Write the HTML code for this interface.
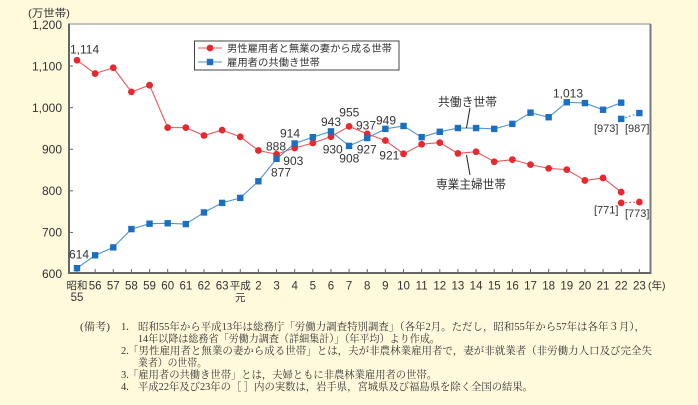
<!DOCTYPE html>
<html><head><meta charset="utf-8"><style>
html,body{margin:0;padding:0;background:#fffadc;}
svg{display:block;}
.lab{font-family:"Liberation Sans","Noto Sans CJK JP",sans-serif;fill:#333;}
.note{font-family:"Liberation Serif","Noto Serif CJK SC",serif;fill:#333;font-size:10.5px;}
</style></head><body>
<svg width="698" height="405" viewBox="0 0 698 405" xmlns="http://www.w3.org/2000/svg">
<rect x="0" y="0" width="698" height="405" fill="#fffadc"/>
<!-- plot area -->
<rect x="69" y="24" width="582" height="249" fill="#ffffff"/>
<line x1="69" y1="24" x2="651" y2="24" stroke="#8a8a8a" stroke-width="1"/>
<line x1="650.5" y1="24" x2="650.5" y2="274" stroke="#7a7a7a" stroke-width="2"/>
<line x1="69" y1="23.5" x2="69" y2="274" stroke="#666" stroke-width="2"/>
<line x1="68" y1="273" x2="651" y2="273" stroke="#666" stroke-width="2"/>
<!-- y ticks -->
<g stroke="#666" stroke-width="1">
<line x1="69" y1="66.08" x2="73" y2="66.08"/>
<line x1="69" y1="107.67" x2="73" y2="107.67"/>
<line x1="69" y1="149.25" x2="73" y2="149.25"/>
<line x1="69" y1="190.83" x2="73" y2="190.83"/>
<line x1="69" y1="232.42" x2="73" y2="232.42"/>
</g>
<!-- x ticks -->
<g stroke="#666" stroke-width="1">
<line x1="77" y1="273" x2="77" y2="269"/><line x1="95.14" y1="273" x2="95.14" y2="269"/><line x1="113.28" y1="273" x2="113.28" y2="269"/><line x1="131.42" y1="273" x2="131.42" y2="269"/><line x1="149.56" y1="273" x2="149.56" y2="269"/><line x1="167.7" y1="273" x2="167.7" y2="269"/><line x1="185.84" y1="273" x2="185.84" y2="269"/><line x1="203.98" y1="273" x2="203.98" y2="269"/><line x1="222.12" y1="273" x2="222.12" y2="269"/><line x1="240.26" y1="273" x2="240.26" y2="269"/><line x1="258.4" y1="273" x2="258.4" y2="269"/><line x1="276.54" y1="273" x2="276.54" y2="269"/><line x1="294.68" y1="273" x2="294.68" y2="269"/><line x1="312.82" y1="273" x2="312.82" y2="269"/><line x1="330.96" y1="273" x2="330.96" y2="269"/><line x1="349.1" y1="273" x2="349.1" y2="269"/><line x1="367.24" y1="273" x2="367.24" y2="269"/><line x1="385.38" y1="273" x2="385.38" y2="269"/><line x1="403.52" y1="273" x2="403.52" y2="269"/><line x1="421.66" y1="273" x2="421.66" y2="269"/><line x1="439.8" y1="273" x2="439.8" y2="269"/><line x1="457.94" y1="273" x2="457.94" y2="269"/><line x1="476.08" y1="273" x2="476.08" y2="269"/><line x1="494.22" y1="273" x2="494.22" y2="269"/><line x1="512.36" y1="273" x2="512.36" y2="269"/><line x1="530.5" y1="273" x2="530.5" y2="269"/><line x1="548.64" y1="273" x2="548.64" y2="269"/><line x1="566.78" y1="273" x2="566.78" y2="269"/><line x1="584.92" y1="273" x2="584.92" y2="269"/><line x1="603.06" y1="273" x2="603.06" y2="269"/><line x1="621.2" y1="273" x2="621.2" y2="269"/><line x1="639.34" y1="273" x2="639.34" y2="269"/>
</g>
<!-- y labels -->
<g class="lab" font-size="12" text-anchor="end">
<text x="62" y="29">1,200</text>
<text x="62" y="70.3">1,100</text>
<text x="62" y="112">1,000</text>
<text x="62" y="153.5">900</text>
<text x="62" y="195">800</text>
<text x="62" y="236.6">700</text>
<text x="62" y="278.2">600</text>
</g>
<text class="lab" x="28" y="16.5" font-size="10.5" textLength="42" lengthAdjust="spacingAndGlyphs">(万世帯)</text>
<!-- x labels -->
<g class="lab" font-size="11.5" text-anchor="middle">
<text x="77" y="289" font-size="10.5">昭和</text><text x="77" y="301">55</text>
<text x="95.14" y="289.3">56</text><text x="113.28" y="289.3">57</text><text x="131.42" y="289.3">58</text><text x="149.56" y="289.3">59</text><text x="167.7" y="289.3">60</text><text x="185.84" y="289.3">61</text><text x="203.98" y="289.3">62</text><text x="222.12" y="289.3">63</text>
<text x="240.26" y="289" font-size="10.5">平成</text><text x="240.26" y="301" font-size="10.5">元</text>
<text x="258.4" y="289.3">2</text><text x="276.54" y="289.3">3</text><text x="294.68" y="289.3">4</text><text x="312.82" y="289.3">5</text><text x="330.96" y="289.3">6</text><text x="349.1" y="289.3">7</text><text x="367.24" y="289.3">8</text><text x="385.38" y="289.3">9</text><text x="403.52" y="289.3">10</text><text x="421.66" y="289.3">11</text><text x="439.8" y="289.3">12</text><text x="457.94" y="289.3">13</text><text x="476.08" y="289.3">14</text><text x="494.22" y="289.3">15</text><text x="512.36" y="289.3">16</text><text x="530.5" y="289.3">17</text><text x="548.64" y="289.3">18</text><text x="566.78" y="289.3">19</text><text x="584.92" y="289.3">20</text><text x="603.06" y="289.3">21</text><text x="621.2" y="289.3">22</text><text x="639.34" y="289.3">23</text>
</g>
<text class="lab" x="648" y="289" font-size="10.5">(年)</text>

<!-- red series -->
<polyline fill="none" stroke="#e8565c" stroke-width="1.1" points="77,60.26 95.14,73.57 113.28,67.75 131.42,91.87 149.56,85.21 167.7,127.63 185.84,127.63 203.98,135.53 222.12,130.12 240.26,136.78 258.4,150.5 276.54,154.24 294.68,148 312.82,143.01 330.96,136.78 349.1,126.38 367.24,133.87 385.38,140.52 403.52,153.83 421.66,144.26 439.8,142.6 457.94,153.41 476.08,151.75 494.22,161.73 512.36,159.65 530.5,164.64 548.64,168.38 566.78,169.63 584.92,180.44 603.06,177.94 621.2,192.08"/>
<line x1="621.2" y1="202.89" x2="639.34" y2="202.06" stroke="#e8565c" stroke-width="1.1" stroke-dasharray="2,2"/>
<g fill="#e5292f">
<circle cx="77" cy="60.26" r="3.4"/><circle cx="95.14" cy="73.57" r="3.4"/><circle cx="113.28" cy="67.75" r="3.4"/><circle cx="131.42" cy="91.87" r="3.4"/><circle cx="149.56" cy="85.21" r="3.4"/><circle cx="167.7" cy="127.63" r="3.4"/><circle cx="185.84" cy="127.63" r="3.4"/><circle cx="203.98" cy="135.53" r="3.4"/><circle cx="222.12" cy="130.12" r="3.4"/><circle cx="240.26" cy="136.78" r="3.4"/><circle cx="258.4" cy="150.5" r="3.4"/><circle cx="276.54" cy="154.24" r="3.4"/><circle cx="294.68" cy="148" r="3.4"/><circle cx="312.82" cy="143.01" r="3.4"/><circle cx="330.96" cy="136.78" r="3.4"/><circle cx="349.1" cy="126.38" r="3.4"/><circle cx="367.24" cy="133.87" r="3.4"/><circle cx="385.38" cy="140.52" r="3.4"/><circle cx="403.52" cy="153.83" r="3.4"/><circle cx="421.66" cy="144.26" r="3.4"/><circle cx="439.8" cy="142.6" r="3.4"/><circle cx="457.94" cy="153.41" r="3.4"/><circle cx="476.08" cy="151.75" r="3.4"/><circle cx="494.22" cy="161.73" r="3.4"/><circle cx="512.36" cy="159.65" r="3.4"/><circle cx="530.5" cy="164.64" r="3.4"/><circle cx="548.64" cy="168.38" r="3.4"/><circle cx="566.78" cy="169.63" r="3.4"/><circle cx="584.92" cy="180.44" r="3.4"/><circle cx="603.06" cy="177.94" r="3.4"/><circle cx="621.2" cy="192.08" r="3.4"/><circle cx="621.2" cy="202.89" r="3.4"/><circle cx="639.34" cy="202.06" r="3.4"/>
</g>

<!-- blue series -->
<polyline fill="none" stroke="#4f93d3" stroke-width="1.1" points="77,268.18 95.14,255.29 113.28,247.39 131.42,229.09 149.56,223.68 167.7,223.27 185.84,224.1 203.98,212.46 222.12,202.89 240.26,197.9 258.4,181.27 276.54,158.82 294.68,143.43 312.82,137.19 330.96,131.37 349.1,145.92 367.24,138.02 385.38,128.88 403.52,125.96 421.66,137.19 439.8,131.79 457.94,128.04 476.08,128.04 494.22,128.88 512.36,123.89 530.5,112.66 548.64,117.23 566.78,102.26 584.92,103.09 603.06,109.75 621.2,102.68"/>
<line x1="621.2" y1="118.9" x2="639.34" y2="113.07" stroke="#4f93d3" stroke-width="1.1" stroke-dasharray="2,2"/>
<g fill="#1b6fc2">
<rect x="73.8" y="264.98" width="6.4" height="6.4"/><rect x="91.94" y="252.09" width="6.4" height="6.4"/><rect x="110.08" y="244.19" width="6.4" height="6.4"/><rect x="128.22" y="225.89" width="6.4" height="6.4"/><rect x="146.36" y="220.48" width="6.4" height="6.4"/><rect x="164.5" y="220.07" width="6.4" height="6.4"/><rect x="182.64" y="220.9" width="6.4" height="6.4"/><rect x="200.78" y="209.26" width="6.4" height="6.4"/><rect x="218.92" y="199.69" width="6.4" height="6.4"/><rect x="237.06" y="194.7" width="6.4" height="6.4"/><rect x="255.2" y="178.07" width="6.4" height="6.4"/><rect x="273.34" y="155.62" width="6.4" height="6.4"/><rect x="291.48" y="140.23" width="6.4" height="6.4"/><rect x="309.62" y="133.99" width="6.4" height="6.4"/><rect x="327.76" y="128.17" width="6.4" height="6.4"/><rect x="345.9" y="142.72" width="6.4" height="6.4"/><rect x="364.04" y="134.82" width="6.4" height="6.4"/><rect x="382.18" y="125.68" width="6.4" height="6.4"/><rect x="400.32" y="122.76" width="6.4" height="6.4"/><rect x="418.46" y="133.99" width="6.4" height="6.4"/><rect x="436.6" y="128.59" width="6.4" height="6.4"/><rect x="454.74" y="124.84" width="6.4" height="6.4"/><rect x="472.88" y="124.84" width="6.4" height="6.4"/><rect x="491.02" y="125.68" width="6.4" height="6.4"/><rect x="509.16" y="120.69" width="6.4" height="6.4"/><rect x="527.3" y="109.46" width="6.4" height="6.4"/><rect x="545.44" y="114.03" width="6.4" height="6.4"/><rect x="563.58" y="99.06" width="6.4" height="6.4"/><rect x="581.72" y="99.89" width="6.4" height="6.4"/><rect x="599.86" y="106.55" width="6.4" height="6.4"/><rect x="618" y="99.48" width="6.4" height="6.4"/><rect x="618" y="115.7" width="6.4" height="6.4"/><rect x="636.14" y="109.87" width="6.4" height="6.4"/>
</g>

<!-- data labels -->
<g class="lab" font-size="12">
<text x="70" y="53.5">1,114</text>
<text x="69" y="258.5">614</text>
<text x="266" y="150.3">888</text>
<text x="280" y="137.6">914</text>
<text x="283.3" y="165">903</text>
<text x="271" y="176.6">877</text>
<text x="321" y="126">943</text>
<text x="339.3" y="116.6">955</text>
<text x="322.7" y="153.6">930</text>
<text x="339.3" y="162.6">908</text>
<text x="356" y="129.3">937</text>
<text x="356.7" y="153.3">927</text>
<text x="376" y="124.3">949</text>
<text x="379.3" y="159.3">921</text>
<text x="553" y="97.6">1,013</text>
</g>
<g class="lab" font-size="11">
<text x="594" y="132">[973]</text>
<text x="625" y="132">[987]</text>
<text x="594" y="213.6">[771]</text>
<text x="625" y="217">[773]</text>
</g>

<!-- annotations -->
<text class="lab" x="438" y="106" font-size="12" fill="#111" textLength="59" lengthAdjust="spacingAndGlyphs">共働き世帯</text>
<line x1="470" y1="108" x2="466.5" y2="128" stroke="#222" stroke-width="1"/>
<text class="lab" x="436" y="188.5" font-size="12" fill="#111" textLength="70" lengthAdjust="spacingAndGlyphs">専業主婦世帯</text>
<line x1="466.5" y1="155" x2="470" y2="175" stroke="#222" stroke-width="1"/>

<!-- legend -->
<rect x="194.5" y="41" width="204.5" height="29" fill="#ffffff" stroke="#444" stroke-width="1"/>
<line x1="198" y1="48" x2="222" y2="48" stroke="#ef7b80" stroke-width="1.2"/>
<circle cx="210" cy="48" r="3.4" fill="#e5292f"/>
<text class="lab" x="227" y="52" font-size="10.3" textLength="165" lengthAdjust="spacingAndGlyphs">男性雇用者と無業の妻から成る世帯</text>
<line x1="198" y1="62" x2="222" y2="62" stroke="#6ea6da" stroke-width="1.2"/>
<rect x="206.8" y="58.8" width="6.4" height="6.4" fill="#1b6fc2"/>
<text class="lab" x="227" y="66" font-size="10.3" textLength="93" lengthAdjust="spacingAndGlyphs">雇用者の共働き世帯</text>

<!-- notes -->
<text class="note" x="80" y="330" textLength="30" lengthAdjust="spacingAndGlyphs">(備考)</text>
<text class="note" x="121" y="330">1.</text>
<text class="note" x="138" y="330" textLength="507" lengthAdjust="spacingAndGlyphs">昭和55年から平成13年は総務庁「労働力調査特別調査」（各年2月。ただし，昭和55年から57年は各年３月），</text>
<text class="note" x="138" y="342" textLength="302" lengthAdjust="spacingAndGlyphs">14年以降は総務省「労働力調査（詳細集計）」（年平均）より作成。</text>
<text class="note" x="121" y="354">2.</text>
<text class="note" x="128" y="354" textLength="524" lengthAdjust="spacingAndGlyphs">「男性雇用者と無業の妻から成る世帯」とは，夫が非農林業雇用者で，妻が非就業者（非労働力人口及び完全失</text>
<text class="note" x="138" y="366" textLength="69" lengthAdjust="spacingAndGlyphs">業者）の世帯。</text>
<text class="note" x="121" y="378">3.</text>
<text class="note" x="128" y="378" textLength="309" lengthAdjust="spacingAndGlyphs">「雇用者の共働き世帯」とは，夫婦ともに非農林業雇用者の世帯。</text>
<text class="note" x="121" y="390">4.</text>
<text class="note" x="138" y="390" textLength="395" lengthAdjust="spacingAndGlyphs">平成22年及び23年の［ ］内の実数は，岩手県，宮城県及び福島県を除く全国の結果。</text>
</svg>
</body></html>
